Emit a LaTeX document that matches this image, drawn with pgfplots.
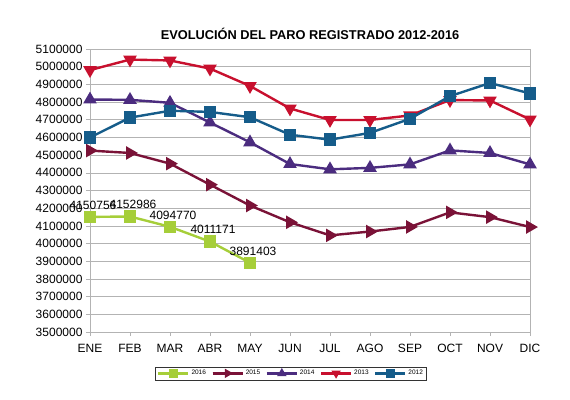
\documentclass[border=0pt]{standalone}
\usepackage{pgfplots}
\pgfplotsset{compat=1.18}
\usepackage{fontspec}
\setmainfont{Liberation Sans}
\definecolor{c16}{HTML}{A6CE39}
\definecolor{c15}{HTML}{7A1237}
\definecolor{c14}{HTML}{4B2C7F}
\definecolor{c13}{HTML}{C8102E}
\definecolor{c12}{HTML}{155C8A}
\definecolor{gridc}{HTML}{B3B3B3}
\begin{document}
\begin{tikzpicture}
\begin{axis}[
  at={(0pt,0pt)}, anchor=south west,
  scale only axis, width=440pt, height=283pt,
  xmin=0, xmax=11, ymin=3500000, ymax=5100000,
  xtick={0,...,11},
  xticklabels={ENE,FEB,MAR,ABR,MAY,JUN,JUL,AGO,SEP,OCT,NOV,DIC},
  ytick={3500000,3600000,...,5100000},
  scaled y ticks=false,
  /pgf/number format/assume math mode=true,
  yticklabel={\pgfmathprintnumber[fixed,1000 sep={},precision=0]{\tick}},
  ticklabel style={font=\fontsize{12}{14}\selectfont},
  xticklabel style={yshift=-5pt},
  ymajorgrids, grid style={gridc, line width=0.6pt},
  axis line style={gridc, line width=0.6pt},
  axis x line*=bottom, axis y line*=left,
  tick style={gridc, line width=0.6pt},
  tick align=outside, major tick length=4pt,
  clip=false,
  title={\bfseries EVOLUCIÓN DEL PARO REGISTRADO 2012-2016},
  title style={font=\fontsize{12.8}{14}\selectfont\bfseries, yshift=0pt},
  legend style={at={(0.457,-0.122)}, anchor=north, legend columns=5,
    font=\fontsize{6.5}{7}\selectfont, draw=black!80, line width=0.6pt,
    inner sep=1.5pt, /tikz/every even column/.append style={column sep=3.5pt}},
  legend image code/.code={
    \draw[#1, line width=2.2pt] (0cm,0cm) -- (1.05cm,0cm);
    \draw[#1, mark size=3pt, mark repeat=2, mark phase=2] plot coordinates {(0cm,0cm) (0.525cm,0cm) (1.05cm,0cm)};
  },
  every axis plot/.append style={line width=2.4pt},
]
\draw[gridc, line width=0.6pt] (axis cs:11,3500000) -- (axis cs:11,5100000);
\addplot[c16, mark=square*, mark size=5pt, mark options={solid},
  nodes near coords, point meta=explicit symbolic,
  every node near coord/.append style={font=\fontsize{12}{14}\selectfont, text=black, anchor=south, yshift=3pt, xshift=3pt}]
  table[meta=lab] {
x y lab
0 4150756 4150756
1 4152986 4152986
2 4094770 4094770
3 4011171 4011171
4 3891403 3891403
};
\addlegendentry{2016}
\addplot[c15, mark=triangle*, mark size=5.5pt, mark options={rotate=-90, solid}] coordinates {
(0,4525691) (1,4512153) (2,4451939) (3,4333016) (4,4215031) (5,4120304)
(6,4046276) (7,4067955) (8,4094042) (9,4176369) (10,4149298) (11,4093508)};
\addlegendentry{2015}
\addplot[c14, mark=triangle*, mark size=5.5pt, mark options={solid}] coordinates {
(0,4814435) (1,4812486) (2,4795866) (3,4684301) (4,4572385) (5,4449701)
(6,4419860) (7,4427930) (8,4447650) (9,4526804) (10,4512116) (11,4447711)};
\addlegendentry{2014}
\addplot[c13, mark=triangle*, mark size=5.5pt, mark options={rotate=180, solid}] coordinates {
(0,4980778) (1,5040222) (2,5035243) (3,4989193) (4,4890928) (5,4763680)
(6,4698814) (7,4698783) (8,4724355) (9,4811383) (10,4808908) (11,4701338)};
\addlegendentry{2013}
\addplot[c12, mark=square*, mark size=5pt, mark options={solid}] coordinates {
(0,4599829) (1,4712098) (2,4750867) (3,4744235) (4,4714122) (5,4615269)
(6,4587455) (7,4625634) (8,4705279) (9,4833521) (10,4907817) (11,4848723)};
\addlegendentry{2012}
\end{axis}
\path[use as bounding box] (-90pt,-67pt) rectangle (480pt,332pt);
\end{tikzpicture}
\end{document}
